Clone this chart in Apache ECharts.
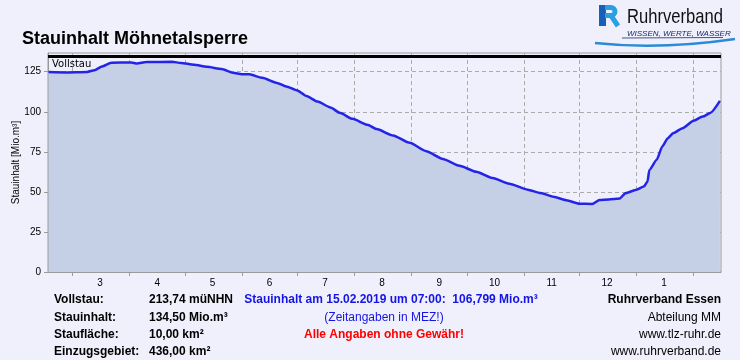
<!DOCTYPE html>
<html><head><meta charset="utf-8">
<script src="https://cdn.jsdelivr.net/npm/echarts@6/dist/echarts.min.js"></script>
<style>html,body{margin:0;padding:0;background:#F0F0FC}#c{width:740px;height:360px}</style>
</head><body><div id="c"></div>
<script>
// ---- data ----
const dates = ['2018-02-16','2018-02-25','2018-03-09','2018-03-13','2018-03-17','2018-03-22','2018-04-02','2018-04-05','2018-04-10','2018-04-24','2018-04-29','2018-05-06','2018-05-13','2018-05-21','2018-05-27','2018-06-01','2018-06-05','2018-06-12','2018-06-20','2018-06-25','2018-07-01','2018-07-06','2018-07-12','2018-07-19','2018-07-24','2018-07-31','2018-08-08','2018-08-13','2018-08-22','2018-08-31','2018-09-09','2018-09-18','2018-09-27','2018-10-06','2018-10-15','2018-10-24','2018-11-03','2018-11-10','2018-11-17','2018-11-24','2018-12-01','2018-12-08','2018-12-12','2018-12-17','2018-12-23','2018-12-26','2019-01-01','2019-01-05','2019-01-07','2019-01-08','2019-01-12','2019-01-15','2019-01-18','2019-01-21','2019-01-26','2019-02-01','2019-02-06','2019-02-10','2019-02-15 07:00'];
const volumes = [124.8,124.6,124.9,126.0,128.2,130.6,130.8,130.1,131.1,131.2,130.5,129.4,128.1,126.7,124.4,123.5,123.4,121.2,118.0,115.8,113.3,109.8,106.4,102.7,99.4,95.6,91.9,89.2,85.2,80.6,75.4,70.6,66.3,62.6,58.6,55.1,51.4,49.3,47.0,44.8,42.6,42.5,45.0,45.3,45.9,49.2,51.3,53.3,56.5,63.7,70.0,78.3,83.5,86.7,89.8,94.4,97.0,99.2,106.8];
const fullVolume = 134.5;
const axisStart = '2018-02-15 18:00';
const axisEnd = '2019-02-15 21:00';
const monthTicks = ['2018-03-01','2018-04-01','2018-05-01','2018-06-01','2018-07-01','2018-08-01','2018-09-01','2018-10-01','2018-11-01','2018-12-01','2019-01-01','2019-02-01'];
const monthLabelDates = ['2018-03-16','2018-04-16','2018-05-16','2018-06-16','2018-07-16','2018-08-16','2018-09-16','2018-10-16','2018-11-16','2018-12-16','2019-01-16'];
const yTicks = [0,25,50,75,100,125];
const yMax = 136.7;

const titleText = 'Stauinhalt Möhnetalsperre';
const yAxisName = 'Stauinhalt [Mio.m³]';
const infoLabels = ['Vollstau:','Stauinhalt:','Staufläche:','Einzugsgebiet:'];
const infoValues = ['213,74 müNHN','134,50 Mio.m³','10,00 km²','436,00 km²'];
const currentText = 'Stauinhalt am 15.02.2019 um 07:00:  106,799 Mio.m³';
const tzText = '(Zeitangaben in MEZ!)';
const warnText = 'Alle Angaben ohne Gewähr!';
const rightLines = ['Ruhrverband Essen','Abteilung MM','www.tlz-ruhr.de','www.ruhrverband.de'];

// ---- helpers ----
function ts(s){
  const m = s.match(/(\d+)-(\d+)-(\d+)(?:[ T](\d+):(\d+))?/);
  return new Date(+m[1], +m[2]-1, +m[3], m[4]?+m[4]:0, m[5]?+m[5]:0).getTime();
}

// ---- chart ----
const chart = echarts.init(document.getElementById('c'), null, {renderer:'canvas'});
const rowY = [300, 317.5, 334.5, 351.5];
const graphics = [];
graphics.push({type:'text', left:22, top:30, style:{text:titleText, font:'bold 18px "Liberation Sans", Arial', fill:'#000'}});
infoLabels.forEach((t,i)=>{
  graphics.push({type:'text', style:{x:54, y:rowY[i], text:t, font:'bold 12px "Liberation Sans", Arial', fill:'#000', verticalAlign:'middle'}});
  graphics.push({type:'text', style:{x:149, y:rowY[i], text:infoValues[i], font:'bold 12px "Liberation Sans", Arial', fill:'#000', verticalAlign:'middle'}});
});
graphics.push({type:'text', style:{x:391, y:rowY[0], text:currentText, font:'bold 12px "Liberation Sans", Arial', fill:'#1414E6', align:'center', verticalAlign:'middle'}});
graphics.push({type:'text', style:{x:384, y:rowY[1], text:tzText, font:'12px "Liberation Sans", Arial', fill:'#1414E6', align:'center', verticalAlign:'middle'}});
graphics.push({type:'text', style:{x:384, y:rowY[2], text:warnText, font:'bold 12px "Liberation Sans", Arial', fill:'#FF0000', align:'center', verticalAlign:'middle'}});
rightLines.forEach((t,i)=>{
  graphics.push({type:'text', style:{x:721, y:rowY[i], text:t, font:(i===0?'bold ':'')+'12px "Liberation Sans", Arial', fill:'#000', align:'right', verticalAlign:'middle'}});
});
// logo
graphics.push({type:'rect', shape:{x:599, y:5, width:7, height:21}, style:{fill:'#1560B8'}});
graphics.push({type:'polyline', shape:{points:[[605,7.5],[611,7.5]]}, style:{stroke:'#2AA0E0', lineWidth:5, fill:null}});
graphics.push({type:'arc', shape:{cx:611, cy:11.5, r:4, startAngle:-Math.PI/2, endAngle:Math.PI/2}, style:{stroke:'#2AA0E0', lineWidth:5, fill:null}});
graphics.push({type:'polyline', shape:{points:[[605,15.5],[611,15.5],[618,26]]}, style:{stroke:'#2AA0E0', lineWidth:5, fill:null}});
graphics.push({type:'text', x:627, y:7, scaleX:0.79, style:{x:0, y:0, text:'Ruhrverband', font:'21px "Liberation Sans", Arial', fill:'#111'}});
graphics.push({type:'text', x:627, y:30, style:{x:0, y:0, text:'WISSEN, WERTE, WASSER', font:'italic 8px "Liberation Sans", Arial', fill:'#1a2a6a'}});
graphics.push({type:'line', shape:{x1:622, y1:38, x2:723, y2:37.5}, style:{stroke:'#1a2a6a', lineWidth:0.8}});
graphics.push({type:'bezierCurve', shape:{x1:595, y1:43, cpx1:660, cpy1:50, x2:735, y2:39}, style:{stroke:'#2A8AD6', lineWidth:2.5, fill:null}});

chart.setOption({
  backgroundColor:'#F0F0FC',
  animation:false,
  grid:{left:48, right:19, top:53, bottom:88, show:true, borderColor:'#9A9A9A', borderWidth:1, backgroundColor:'transparent', containLabel:false, outerBoundsMode:'none'},
  xAxis:{
    type:'value', min:ts(axisStart), max:ts(axisEnd),
    axisLine:{show:true, lineStyle:{color:'#9A9A9A'}},
    axisTick:{show:true, length:4, lineStyle:{color:'#9A9A9A'}, customValues:monthTicks.map(ts)},
    axisLabel:{customValues:monthLabelDates.map(ts), formatter:(v)=>String(new Date(v).getMonth()+1), color:'#000', fontSize:10, fontFamily:'"Liberation Sans", Arial', margin:6, hideOverlap:false},
    splitLine:{show:true, lineStyle:{color:'#ABABAB', type:[4,3], width:1}}
  },
  yAxis:{
    type:'value', min:0, max:yMax,
    name:yAxisName, nameLocation:'middle', nameRotate:90, nameGap:27, nameMoveOverlap:false,
    nameTextStyle:{color:'#000', fontSize:10, fontFamily:'"Liberation Sans", Arial'},
    axisLine:{show:true, lineStyle:{color:'#9A9A9A'}},
    axisTick:{show:true, length:4, lineStyle:{color:'#9A9A9A'}, customValues:yTicks},
    axisLabel:{customValues:yTicks, color:'#000', fontSize:10, fontFamily:'"Liberation Sans", Arial', margin:7},
    splitLine:{show:true, lineStyle:{color:'#ABABAB', type:[4,3], width:1}}
  },
  series:[{
    type:'line',
    data:dates.map((d,i)=>[ts(d), volumes[i]]),
    symbol:'none', smooth:0.2, smoothMonotone:'x',
    lineStyle:{color:'#2424E8', width:2.5},
    areaStyle:{color:'#C5D0E6', opacity:1},
    markLine:{
      silent:true, symbol:['none','none'],
      data:[{yAxis:fullVolume}],
      lineStyle:{color:'#000', width:3, type:'solid'},
      label:{show:true, formatter:'Vollstau', position:'insideStartBottom', color:'#000', fontSize:10, fontFamily:'"DejaVu Sans", Verdana', distance:[4,3]}
    }
  }],
  graphic:graphics
});
</script>
</body></html>
